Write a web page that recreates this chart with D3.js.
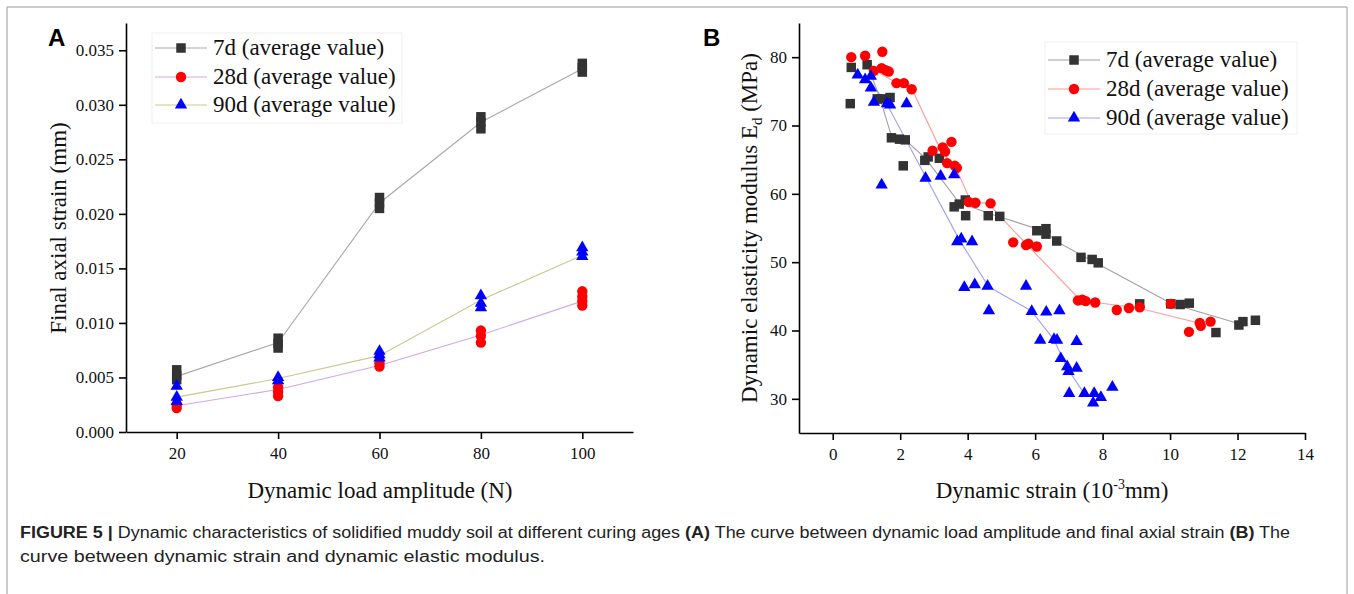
<!DOCTYPE html>
<html>
<head>
<meta charset="utf-8">
<script src="https://cdn.jsdelivr.net/npm/d3@7"></script>
<style>
  body { margin: 0; background: #fff; }
  svg { display: block; }
</style>
</head>
<body>
<svg id="fig" width="1354" height="594"></svg>
<script>
// ---- data, panel A (final axial strain vs load amplitude) ----
const loadsA = [20, 40, 60, 80, 100];
const a7 = [[0.0048, 0.0052, 0.0057], [0.0077, 0.0081, 0.0086], [0.0205, 0.0210, 0.0215], [0.0278, 0.0284, 0.0289], [0.0330, 0.0334, 0.0338]];
const a28 = [[0.0022, 0.0025], [0.0033, 0.0037, 0.0041], [0.0060, 0.0063], [0.0082, 0.0088, 0.0093], [0.0116, 0.0120, 0.0124, 0.0129]];
const a90 = [[0.0028, 0.0032, 0.0042], [0.0047, 0.0050], [0.0068, 0.0071, 0.0074], [0.0114, 0.0118, 0.0125], [0.0161, 0.0165, 0.0169]];
const avgA7 = [0.0051, 0.0082, 0.0210, 0.0284, 0.0333];
const avgA28 = [0.0024, 0.0039, 0.0061, 0.0089, 0.0120];
const avgA90 = [0.0032, 0.0049, 0.0070, 0.0121, 0.0162];

// ---- data, panel B (dynamic elastic modulus vs dynamic strain) ----
const b7x = [0.55, 0.52, 1.02, 1.32, 1.45, 1.70, 1.74, 1.98, 2.15, 2.09, 2.73, 2.83, 3.16, 3.60, 3.75, 3.93, 3.94, 4.61, 4.95, 6.05, 6.32, 6.32, 6.64, 7.36, 7.69, 7.87, 9.10, 10.02, 10.30, 10.57, 11.36, 12.04, 12.16, 12.53];
const b7y = [78.5, 73.2, 78.9, 73.9, 73.9, 74.1, 68.2, 68.0, 67.9, 64.1, 64.9, 65.4, 65.2, 58.1, 58.5, 59.1, 56.8, 56.8, 56.7, 54.6, 54.9, 54.1, 53.1, 50.7, 50.4, 49.9, 43.9, 43.9, 43.8, 44.0, 39.7, 40.8, 41.3, 41.5];
const b28x = [0.55, 0.96, 1.47, 1.22, 1.45, 1.57, 1.66, 1.89, 2.11, 2.34, 2.96, 3.26, 3.33, 3.52, 3.39, 3.62, 3.68, 4.03, 4.23, 4.68, 5.35, 5.73, 5.80, 6.05, 7.27, 7.40, 7.50, 7.78, 8.42, 8.78, 9.10, 10.02, 10.56, 10.88, 10.91, 11.20];
const b28y = [80.0, 80.2, 80.8, 78.0, 78.4, 78.1, 77.9, 76.2, 76.2, 75.3, 66.3, 66.8, 66.2, 67.6, 64.5, 64.1, 63.8, 58.8, 58.7, 58.6, 52.9, 52.5, 52.7, 52.3, 44.4, 44.5, 44.3, 44.1, 43.0, 43.3, 43.4, 43.9, 39.8, 41.1, 40.7, 41.3];
const b90x = [0.74, 0.96, 1.13, 1.13, 1.22, 1.45, 1.61, 1.70, 2.19, 2.75, 3.20, 3.60, 3.69, 3.81, 4.13, 3.90, 4.21, 4.59, 4.63, 5.73, 5.90, 6.33, 6.72, 6.15, 6.56, 6.65, 7.23, 6.76, 6.95, 6.99, 7.23, 7.01, 7.46, 7.75, 7.72, 7.95, 8.29];
const b90y = [77.4, 76.7, 77.2, 75.5, 73.4, 61.3, 73.2, 73.0, 73.2, 62.3, 62.6, 62.8, 53.0, 53.4, 53.0, 46.3, 46.7, 46.5, 42.9, 46.5, 42.8, 42.7, 42.9, 38.6, 38.7, 38.6, 38.4, 35.9, 34.7, 34.0, 34.5, 30.8, 30.8, 30.8, 29.4, 30.2, 31.7];
// average curves as drawn
const l7x = [1.02, 1.40, 1.75, 2.15, 2.75, 3.75, 4.78, 6.30, 6.64, 10.05, 12.05];
const l7y = [79.0, 74.0, 68.3, 67.9, 65.2, 58.7, 56.9, 54.5, 53.0, 43.9, 41.0];
const l28x = [1.00, 1.25, 1.90, 2.35, 3.20, 3.65, 4.10, 4.60, 5.75, 7.35, 7.80, 9.05, 10.85];
const l28y = [80.1, 78.1, 76.2, 75.3, 66.4, 63.8, 58.8, 58.6, 52.6, 44.4, 44.1, 43.3, 41.1];
const l90x = [0.75, 1.10, 1.62, 3.75, 4.62, 5.88, 6.55, 6.95, 7.45];
const l90y = [77.4, 76.5, 73.0, 53.3, 46.4, 42.9, 38.7, 34.5, 30.8];

const seriesNames = ["7d (average value)", "28d (average value)", "90d (average value)"];

const svg = d3.select("#fig");
const serif = "'Liberation Serif', 'Times New Roman', serif";
const sans = "'Liberation Sans', Arial, sans-serif";

// outer frame
svg.append("path")
    .attr("d", "M7,594V7H1347V594")
    .attr("fill", "none")
    .attr("stroke", "#9a9a9a")
    .attr("stroke-width", 1);

const symSquare = d3.symbol().type(d3.symbolSquare).size(90);
const symCircle = d3.symbol().type(d3.symbolCircle).size(85);
const symTri = d3.symbol().type(d3.symbolTriangle).size(66);

function drawAxes(x, y, xMajor, xMinor, yMajor, yMinor, yFmt) {
    const y0 = y.range()[0];
    const x0 = x.range()[0];
    const gx = svg.append("g").attr("transform", "translate(0," + y0 + ")");
    gx.call(d3.axisBottom(x).tickValues(xMinor).tickSize(4).tickSizeOuter(0).tickFormat(""));
    gx.call(d3.axisBottom(x).tickValues(xMajor).tickSize(7).tickSizeOuter(0).tickPadding(8));
    const gy = svg.append("g").attr("transform", "translate(" + x0 + ",0)");
    gy.call(d3.axisLeft(y).tickValues(yMinor).tickSize(4).tickSizeOuter(0).tickFormat(""));
    gy.call(d3.axisLeft(y).tickValues(yMajor).tickSize(7).tickSizeOuter(0).tickPadding(5).tickFormat(yFmt));
    [gx, gy].forEach(g => {
        g.selectAll("path, line").attr("stroke", "#000").attr("stroke-width", 1.6);
        g.selectAll("text").attr("font-family", serif).attr("font-size", 17).attr("fill", "#111");
    });
}

function legend(x0, y0, w, h, rows, lineColors, syms, markColors) {
    svg.append("rect").attr("x", x0).attr("y", y0).attr("width", w).attr("height", h)
        .attr("fill", "#fff").attr("stroke", "#f0f0f0");
    rows.forEach((yy, i) => {
        svg.append("line").attr("x1", x0 + 3).attr("x2", x0 + 55).attr("y1", yy).attr("y2", yy)
            .attr("stroke", lineColors[i]).attr("stroke-width", 1.2);
        svg.append("path").attr("d", syms[i]).attr("transform", "translate(" + (x0 + 29) + "," + yy + ")")
            .attr("fill", markColors[i]);
        svg.append("text").attr("x", x0 + 61).attr("y", yy + 7)
            .attr("font-family", serif).attr("font-size", 23).attr("fill", "#111")
            .text(seriesNames[i]);
    });
}

const markColors = ["#333333", "#ff0000", "#0000ff"];
const syms = [symSquare(), symCircle(), symTri()];

// ================= Panel A =================
const xA = d3.scaleLinear().domain([10, 110]).range([126, 633]);
const yA = d3.scaleLinear().domain([0, 0.0375]).range([432, 23]);
drawAxes(xA, yA, [20, 40, 60, 80, 100], [10, 30, 50, 70, 90, 110],
    d3.range(0, 0.0351, 0.005), d3.range(0, 0.0376, 0.0025), d3.format(".3f"));

const lineA = d3.line().x((d, i) => xA(loadsA[i])).y(d => yA(d));
const linesA = [[avgA7, "#a8a8a8"], [avgA28, "#d4a6e6"], [avgA90, "#c9c98e"]];
linesA.forEach(([vals, col]) => {
    svg.append("path").attr("d", lineA(vals)).attr("fill", "none").attr("stroke", col).attr("stroke-width", 1.1);
});
[a7, a28, a90].forEach((groups, s) => {
    const pts = [];
    groups.forEach((g, i) => g.forEach(v => pts.push([loadsA[i], v])));
    svg.append("g").selectAll("path").data(pts).join("path")
        .attr("d", syms[s])
        .attr("transform", d => "translate(" + xA(d[0]) + "," + yA(d[1]) + ")")
        .attr("fill", markColors[s]);
});
legend(152, 33, 250, 90, [48, 77, 105], ["#a8a8a8", "#d4a6e6", "#c9c98e"], syms, markColors);

svg.append("text").attr("x", 48).attr("y", 46).attr("font-family", sans).attr("font-weight", "bold")
    .attr("font-size", 24).text("A");
svg.append("text").attr("transform", "translate(66,228) rotate(-90)").attr("text-anchor", "middle")
    .attr("font-family", serif).attr("font-size", 23).attr("fill", "#111").text("Final axial strain (mm)");
svg.append("text").attr("x", 380).attr("y", 498).attr("text-anchor", "middle")
    .attr("font-family", serif).attr("font-size", 23).attr("fill", "#111").text("Dynamic load amplitude (N)");

// ================= Panel B =================
const xB = d3.scaleLinear().domain([-1, 14]).range([799, 1305]);
const yB = d3.scaleLinear().domain([25, 85]).range([433, 23]);
drawAxes(xB, yB, d3.range(0, 15, 2), d3.range(-1, 14, 2), d3.range(30, 81, 10), d3.range(25, 86, 5), d3.format("d"));

const lineB = d3.line().x(d => xB(d[0])).y(d => yB(d[1]));
const linesB = [[l7x, l7y, "#a0a0a0"], [l28x, l28y, "#ff9a9a"], [l90x, l90y, "#a0a0f0"]];
linesB.forEach(([xs, ys, col]) => {
    svg.append("path").attr("d", lineB(d3.zip(xs, ys))).attr("fill", "none").attr("stroke", col).attr("stroke-width", 1.1);
});
[[b7x, b7y], [b28x, b28y], [b90x, b90y]].forEach(([xs, ys], s) => {
    svg.append("g").selectAll("path").data(d3.zip(xs, ys)).join("path")
        .attr("d", syms[s])
        .attr("transform", d => "translate(" + xB(d[0]) + "," + yB(d[1]) + ")")
        .attr("fill", markColors[s]);
});
legend(1045, 42, 252, 92, [60, 89, 118], ["#a0a0a0", "#ff9a9a", "#a0a0f0"], syms, markColors);

svg.append("text").attr("x", 703).attr("y", 46).attr("font-family", sans).attr("font-weight", "bold")
    .attr("font-size", 24).text("B");
const ytB = svg.append("text").attr("transform", "translate(757,228) rotate(-90)").attr("text-anchor", "middle")
    .attr("font-family", serif).attr("font-size", 23).attr("fill", "#111");
ytB.append("tspan").text("Dynamic elasticity modulus E");
ytB.append("tspan").attr("font-size", 15).attr("dy", 5).text("d");
ytB.append("tspan").attr("dy", -5).text(" (MPa)");
const xtB = svg.append("text").attr("x", 1052).attr("y", 498).attr("text-anchor", "middle")
    .attr("font-family", serif).attr("font-size", 23).attr("fill", "#111");
xtB.append("tspan").text("Dynamic strain (10");
xtB.append("tspan").attr("font-size", 14).attr("dy", -9).text("-3");
xtB.append("tspan").attr("dy", 9).text("mm)");

// ================= caption =================
const cap1 = svg.append("text").attr("x", 20).attr("y", 538)
    .attr("font-family", sans).attr("font-size", 16).attr("fill", "#222")
    .attr("textLength", 1270).attr("lengthAdjust", "spacingAndGlyphs");
cap1.append("tspan").attr("font-weight", "bold").text("FIGURE 5 | ");
cap1.append("tspan").text("Dynamic characteristics of solidified muddy soil at different curing ages ");
cap1.append("tspan").attr("font-weight", "bold").text("(A)");
cap1.append("tspan").text(" The curve between dynamic load amplitude and final axial strain ");
cap1.append("tspan").attr("font-weight", "bold").text("(B)");
cap1.append("tspan").text(" The");
svg.append("text").attr("x", 20).attr("y", 562)
    .attr("font-family", sans).attr("font-size", 16).attr("fill", "#222")
    .attr("textLength", 525).attr("lengthAdjust", "spacingAndGlyphs")
    .text("curve between dynamic strain and dynamic elastic modulus.");
</script>
</body>
</html>
